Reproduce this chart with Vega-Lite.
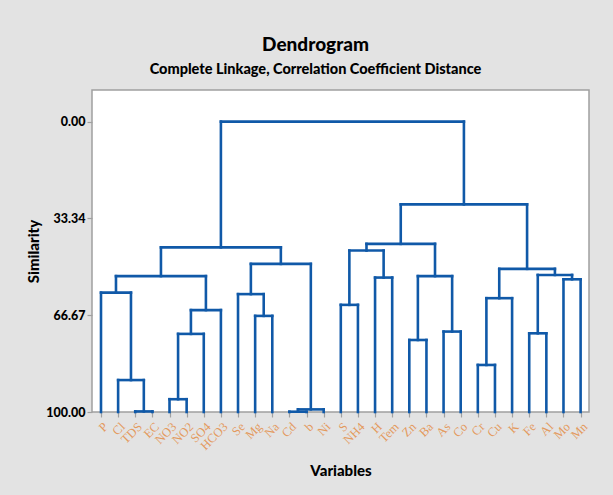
{
  "$schema": "https://vega.github.io/schema/vega-lite/v6.json",
  "autosize": "none",
  "padding": {"left": 92, "top": 90, "right": 24, "bottom": 83},
  "width": 497,
  "height": 322,
  "background": "#e3e3e3",
  "title": {
    "text": "Dendrogram",
    "subtitle": "Complete Linkage, Correlation Coefficient Distance",
    "anchor": "middle",
    "dx": -25,
    "offset": 14,
    "font": "Lato",
    "fontSize": 19,
    "fontWeight": 900,
    "color": "#000000",
    "subtitleFont": "Lato",
    "subtitleFontSize": 14.5,
    "subtitleFontWeight": 900,
    "subtitleColor": "#000000",
    "subtitlePadding": 8
  },
  "config": {
    "view": {"fill": "#ffffff", "stroke": "#a0a0a0", "strokeWidth": 1.5}
  },
  "data": {
    "values": [
      {"x": 2, "x2": 3, "y": 99.8, "y2": 99.8},
      {"x": 2, "x2": 2, "y": 100, "y2": 99.8},
      {"x": 3, "x2": 3, "y": 100, "y2": 99.8},
      {"x": 1, "x2": 2.5, "y": 89, "y2": 89},
      {"x": 1, "x2": 1, "y": 100, "y2": 89},
      {"x": 2.5, "x2": 2.5, "y": 99.8, "y2": 89},
      {"x": 0, "x2": 1.75, "y": 58.9, "y2": 58.9},
      {"x": 0, "x2": 0, "y": 100, "y2": 58.9},
      {"x": 1.75, "x2": 1.75, "y": 89, "y2": 58.9},
      {"x": 4, "x2": 5, "y": 95.6, "y2": 95.6},
      {"x": 4, "x2": 4, "y": 100, "y2": 95.6},
      {"x": 5, "x2": 5, "y": 100, "y2": 95.6},
      {"x": 4.5, "x2": 6, "y": 73.1, "y2": 73.1},
      {"x": 4.5, "x2": 4.5, "y": 95.6, "y2": 73.1},
      {"x": 6, "x2": 6, "y": 100, "y2": 73.1},
      {"x": 5.25, "x2": 7, "y": 64.9, "y2": 64.9},
      {"x": 5.25, "x2": 5.25, "y": 73.1, "y2": 64.9},
      {"x": 7, "x2": 7, "y": 100, "y2": 64.9},
      {"x": 0.875, "x2": 6.125, "y": 53.2, "y2": 53.2},
      {"x": 0.875, "x2": 0.875, "y": 58.9, "y2": 53.2},
      {"x": 6.125, "x2": 6.125, "y": 64.9, "y2": 53.2},
      {"x": 9, "x2": 10, "y": 66.9, "y2": 66.9},
      {"x": 9, "x2": 9, "y": 100, "y2": 66.9},
      {"x": 10, "x2": 10, "y": 100, "y2": 66.9},
      {"x": 8, "x2": 9.5, "y": 59.4, "y2": 59.4},
      {"x": 8, "x2": 8, "y": 100, "y2": 59.4},
      {"x": 9.5, "x2": 9.5, "y": 66.9, "y2": 59.4},
      {"x": 11, "x2": 12, "y": 99.9, "y2": 99.9},
      {"x": 11, "x2": 11, "y": 100, "y2": 99.9},
      {"x": 12, "x2": 12, "y": 100, "y2": 99.9},
      {"x": 11.5, "x2": 13, "y": 99.1, "y2": 99.1},
      {"x": 11.5, "x2": 11.5, "y": 99.9, "y2": 99.1},
      {"x": 13, "x2": 13, "y": 100, "y2": 99.1},
      {"x": 8.75, "x2": 12.25, "y": 49, "y2": 49},
      {"x": 8.75, "x2": 8.75, "y": 59.4, "y2": 49},
      {"x": 12.25, "x2": 12.25, "y": 99.1, "y2": 49},
      {"x": 3.5, "x2": 10.5, "y": 43.3, "y2": 43.3},
      {"x": 3.5, "x2": 3.5, "y": 53.2, "y2": 43.3},
      {"x": 10.5, "x2": 10.5, "y": 49, "y2": 43.3},
      {"x": 14, "x2": 15, "y": 63.1, "y2": 63.1},
      {"x": 14, "x2": 14, "y": 100, "y2": 63.1},
      {"x": 15, "x2": 15, "y": 100, "y2": 63.1},
      {"x": 16, "x2": 17, "y": 53.7, "y2": 53.7},
      {"x": 16, "x2": 16, "y": 100, "y2": 53.7},
      {"x": 17, "x2": 17, "y": 100, "y2": 53.7},
      {"x": 14.5, "x2": 16.5, "y": 44.4, "y2": 44.4},
      {"x": 14.5, "x2": 14.5, "y": 63.1, "y2": 44.4},
      {"x": 16.5, "x2": 16.5, "y": 53.7, "y2": 44.4},
      {"x": 18, "x2": 19, "y": 75.2, "y2": 75.2},
      {"x": 18, "x2": 18, "y": 100, "y2": 75.2},
      {"x": 19, "x2": 19, "y": 100, "y2": 75.2},
      {"x": 20, "x2": 21, "y": 72.3, "y2": 72.3},
      {"x": 20, "x2": 20, "y": 100, "y2": 72.3},
      {"x": 21, "x2": 21, "y": 100, "y2": 72.3},
      {"x": 18.5, "x2": 20.5, "y": 53.2, "y2": 53.2},
      {"x": 18.5, "x2": 18.5, "y": 75.2, "y2": 53.2},
      {"x": 20.5, "x2": 20.5, "y": 72.3, "y2": 53.2},
      {"x": 15.5, "x2": 19.5, "y": 42.1, "y2": 42.1},
      {"x": 15.5, "x2": 15.5, "y": 44.4, "y2": 42.1},
      {"x": 19.5, "x2": 19.5, "y": 53.2, "y2": 42.1},
      {"x": 22, "x2": 23, "y": 83.8, "y2": 83.8},
      {"x": 22, "x2": 22, "y": 100, "y2": 83.8},
      {"x": 23, "x2": 23, "y": 100, "y2": 83.8},
      {"x": 22.5, "x2": 24, "y": 60.8, "y2": 60.8},
      {"x": 22.5, "x2": 22.5, "y": 83.8, "y2": 60.8},
      {"x": 24, "x2": 24, "y": 100, "y2": 60.8},
      {"x": 25, "x2": 26, "y": 72.9, "y2": 72.9},
      {"x": 25, "x2": 25, "y": 100, "y2": 72.9},
      {"x": 26, "x2": 26, "y": 100, "y2": 72.9},
      {"x": 27, "x2": 28, "y": 54.3, "y2": 54.3},
      {"x": 27, "x2": 27, "y": 100, "y2": 54.3},
      {"x": 28, "x2": 28, "y": 100, "y2": 54.3},
      {"x": 25.5, "x2": 27.5, "y": 52.8, "y2": 52.8},
      {"x": 25.5, "x2": 25.5, "y": 72.9, "y2": 52.8},
      {"x": 27.5, "x2": 27.5, "y": 54.3, "y2": 52.8},
      {"x": 23.25, "x2": 26.5, "y": 50.7, "y2": 50.7},
      {"x": 23.25, "x2": 23.25, "y": 60.8, "y2": 50.7},
      {"x": 26.5, "x2": 26.5, "y": 52.8, "y2": 50.7},
      {"x": 17.5, "x2": 24.875, "y": 28.5, "y2": 28.5},
      {"x": 17.5, "x2": 17.5, "y": 42.1, "y2": 28.5},
      {"x": 24.875, "x2": 24.875, "y": 50.7, "y2": 28.5},
      {"x": 7, "x2": 21.1875, "y": 0, "y2": 0},
      {"x": 7, "x2": 7, "y": 43.3, "y2": 0},
      {"x": 21.1875, "x2": 21.1875, "y": 28.5, "y2": 0}
    ]
  },
  "mark": {"type": "rule", "color": "#1059a8", "strokeWidth": 2.6, "strokeCap": "square"},
  "encoding": {
    "x": {
      "field": "x",
      "type": "quantitative",
      "scale": {"domain": [-0.525, 28.49], "nice": false, "zero": false},
      "axis": {
        "title": "Variables",
        "titleFont": "Lato",
        "titleFontSize": 15,
        "titleFontWeight": 900,
        "titleColor": "#000000",
        "titlePadding": 12,
        "values": [0,1,2,3,4,5,6,7,8,9,10,11,12,13,14,15,16,17,18,19,20,21,22,23,24,25,26,27,28],
        "labelExpr": "['P','Cl','TDS','EC','NO3','NO2','SO4','HCO3','Se','Mg','Na','Cd','b','Ni','S','NH4','H','Tem','Zn','Ba','As','Co','Cr','Cu','K','Fe','Al','Mo','Mn'][datum.value]",
        "labelAngle": -45,
        "labelFont": "Liberation Serif",
        "labelFontSize": 12.5,
        "labelColor": "#e39a5e",
        "labelPadding": 3,
        "labelOverlap": false,
        "labelFlush": false,
        "grid": false,
        "domain": false,
        "ticks": true,
        "tickColor": "#a0a0a0",
        "tickSize": 5,
        "tickWidth": 1.2
      }
    },
    "x2": {"field": "x2"},
    "y": {
      "field": "y",
      "type": "quantitative",
      "scale": {"domain": [100, -10.9], "nice": false, "zero": false},
      "axis": {
        "title": "Similarity",
        "titleFont": "Lato",
        "titleFontSize": 15,
        "titleFontWeight": 900,
        "titleColor": "#000000",
        "titlePadding": 4,
        "values": [0, 33.34, 66.67, 100],
        "labelExpr": "format(datum.value, '.2f')",
        "labelFont": "Lato",
        "labelFontSize": 12.5,
        "labelFontWeight": 900,
        "labelColor": "#000000",
        "labelPadding": 2,
        "labelFlush": false,
        "grid": false,
        "domain": false,
        "tickColor": "#a0a0a0",
        "tickSize": 5,
        "tickWidth": 1.2
      }
    },
    "y2": {"field": "y2"}
  }
}
